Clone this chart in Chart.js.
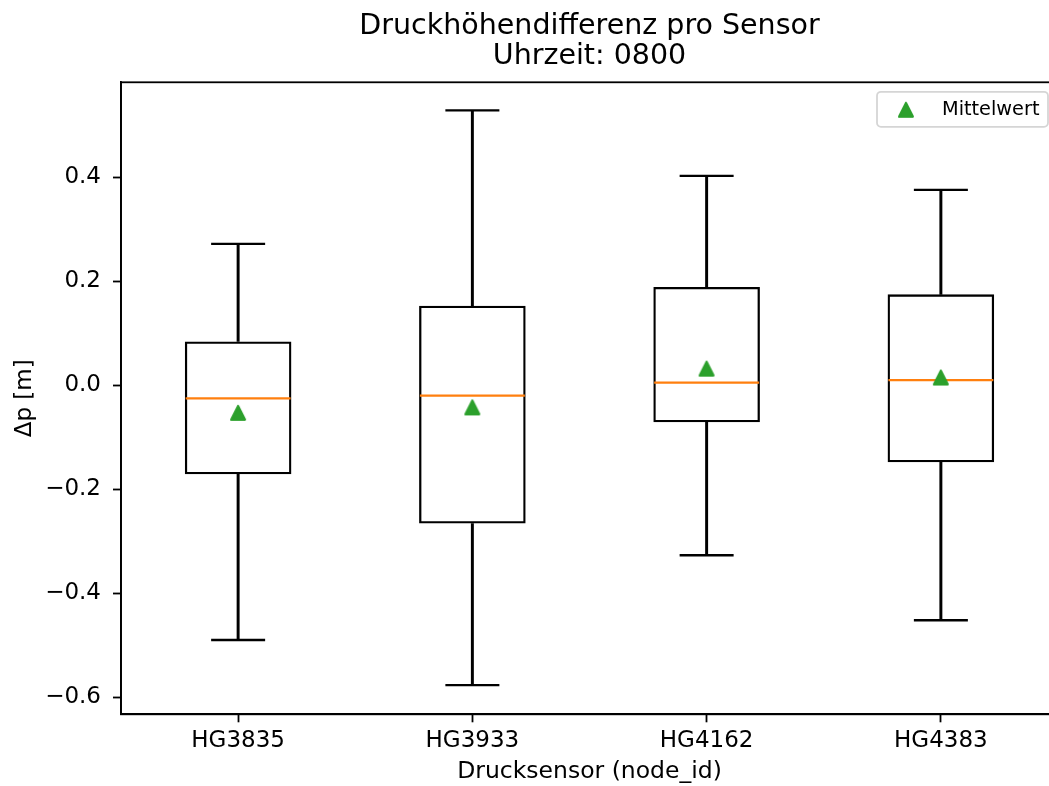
<!DOCTYPE html>
<html>
<head>
<meta charset="utf-8">
<script src="https://cdn.jsdelivr.net/npm/chart.js@4/dist/chart.umd.min.js"></script>
<style>
    html, body { margin: 0; padding: 0; background: #fff; }
    .wrap { width: 1049px; height: 786px; overflow: hidden; position: relative; }
    canvas { display: block; }
</style>
</head>
<body>
<div class="wrap"><canvas id="boxChart" width="1070" height="786" style="width:1070px;height:786px"></canvas></div>
<script>
// Werte
const sensors = ['HG3835', 'HG3933', 'HG4162', 'HG4383'];
const whiskerLow = [-0.490, -0.577, -0.327, -0.452];
const q1 = [-0.171, -0.266, -0.071, -0.148];
const medians = [-0.025, -0.020, 0.005, 0.010];
const q3 = [0.0845, 0.153, 0.189, 0.175];
const whiskerHigh = [0.272, 0.529, 0.403, 0.376];
const means = [-0.053, -0.0425, 0.032, 0.015];
const yTicks = [-0.6, -0.4, -0.2, 0.0, 0.2, 0.4];

const fontFamily = '"DejaVu Sans", sans-serif';
const gruen = '#2ca02c';
const orange = '#ff7f0e';
const lw = 2.3;

// matplotlib-artiges Dreieck (bbox-zentriert)
function makeTriangle(color) {
    const c = document.createElement('canvas');
    c.width = 20; c.height = 20;
    const g = c.getContext('2d');
    const h = 6.85;
    g.beginPath();
    g.moveTo(10, 10 - h);
    g.lineTo(10 - h, 10 + h);
    g.lineTo(10 + h, 10 + h);
    g.closePath();
    g.fillStyle = color;
    g.fill();
    g.lineWidth = lw;
    g.lineJoin = 'round';
    g.strokeStyle = color;
    g.stroke();
    return c;
}
const triangle = makeTriangle(gruen);

// Rahmen um die Zeichenfläche (alle vier Spines)
const framePlugin = {
    id: 'frame',
    afterDatasetsDraw(chart) {
        const { ctx, chartArea: a } = chart;
        ctx.save();
        ctx.strokeStyle = '#000';
        ctx.lineWidth = 1.8;
        ctx.strokeRect(a.left, a.top, a.right - a.left, a.bottom - a.top);
        ctx.restore();
    }
};

// Legende oben rechts wie bei matplotlib
const legendPlugin = {
    id: 'mplLegend',
    afterDraw(chart) {
        const { ctx, chartArea: a } = chart;
        const w = 171, h = 35;
        const x = a.right - 10 - w, y = a.top + 9.5;
        ctx.save();
        ctx.beginPath();
        ctx.roundRect(x, y, w, h, 4);
        ctx.fillStyle = 'rgba(255,255,255,0.8)';
        ctx.fill();
        ctx.strokeStyle = '#d5d5d5';
        ctx.lineWidth = 1.8;
        ctx.stroke();
        ctx.drawImage(triangle, x + 29 - 10, y + 18 - 10);
        ctx.fillStyle = '#000';
        ctx.font = '19.3px ' + fontFamily;
        ctx.textAlign = 'left';
        ctx.textBaseline = 'middle';
        ctx.fillText(chart.data.datasets[0].label, x + 65, y + 18);
        ctx.restore();
    }
};

const fmt = v => v.toFixed(1).replace('-', '\u2212');

new Chart(document.getElementById('boxChart'), {
    type: 'bar',
    data: {
        labels: sensors,
        datasets: [
            {
                type: 'line',
                label: 'Mittelwert',
                data: means,
                showLine: false,
                pointStyle: triangle,
                pointRadius: 8,
                order: 0
            },
            {
                type: 'line',
                label: 'Median',
                data: medians,
                showLine: false,
                pointStyle: 'line',
                pointRadius: 52.5,
                pointBorderColor: orange,
                pointBorderWidth: lw,
                order: 1
            },
            {
                type: 'line',
                label: 'Kappe oben',
                data: whiskerHigh,
                showLine: false,
                pointStyle: 'line',
                pointRadius: 27,
                pointBorderColor: '#000',
                pointBorderWidth: lw,
                order: 2
            },
            {
                type: 'line',
                label: 'Kappe unten',
                data: whiskerLow,
                showLine: false,
                pointStyle: 'line',
                pointRadius: 27,
                pointBorderColor: '#000',
                pointBorderWidth: lw,
                order: 2
            },
            {
                label: 'Box',
                data: sensors.map((s, i) => [q1[i], q3[i]]),
                backgroundColor: 'rgba(255,255,255,0)',
                borderColor: '#000',
                borderWidth: lw,
                borderSkipped: false,
                grouped: false,
                categoryPercentage: 1,
                barPercentage: 0.455,
                order: 3
            },
            {
                label: 'Whisker oben',
                data: sensors.map((s, i) => [q3[i], whiskerHigh[i]]),
                backgroundColor: '#000',
                borderWidth: 0,
                grouped: false,
                barThickness: lw,
                order: 4
            },
            {
                label: 'Whisker unten',
                data: sensors.map((s, i) => [whiskerLow[i], q1[i]]),
                backgroundColor: '#000',
                borderWidth: 0,
                grouped: false,
                barThickness: lw,
                order: 4
            }
        ]
    },
    options: {
        responsive: false,
        devicePixelRatio: 1,
        animation: false,
        layout: { autoPadding: false, padding: { left: 0, right: 12, top: 0, bottom: 0 } },
        plugins: {
            legend: { display: false },
            tooltip: { enabled: false },
            title: {
                display: true,
                fullSize: false,
                text: ['Druckhöhendifferenz pro Sensor', 'Uhrzeit: 0800'],
                color: '#000',
                font: { family: fontFamily, size: 28.5, weight: 'normal', lineHeight: 1.077 },
                padding: { top: 10.75, bottom: 10.15 }
            }
        },
        scales: {
            x: {
                offset: true,
                afterFit: (scale) => {
                    scale.height = 71.7;
                    scale.paddingLeft = 0;
                    scale.paddingRight = 0;
                },
                grid: {
                    offset: false,
                    drawOnChartArea: false,
                    drawTicks: true,
                    tickLength: 8,
                    tickColor: '#000',
                    tickWidth: 1.8
                },
                border: { display: true, color: '#000', width: 1.8 },
                ticks: {
                    color: '#000',
                    padding: 5,
                    font: { family: fontFamily, size: 23 }
                },
                title: {
                    display: true,
                    text: 'Drucksensor (node_id)',
                    color: '#000',
                    font: { family: fontFamily, size: 23.5, lineHeight: 1.2 },
                    padding: { top: 0, bottom: 0 }
                }
            },
            y: {
                min: -0.633,
                max: 0.583,
                afterFit: (scale) => {
                    scale.width = 121;
                    scale.paddingTop = 0;
                    scale.paddingBottom = 0;
                },
                afterBuildTicks: (scale) => { scale.ticks = yTicks.map(v => ({ value: v })); },
                grid: {
                    drawOnChartArea: false,
                    drawTicks: true,
                    tickLength: 8,
                    tickColor: '#000',
                    tickWidth: 1.8
                },
                border: { display: true, color: '#000', width: 1.8 },
                ticks: {
                    color: '#000',
                    padding: 12,
                    font: { family: fontFamily, size: 23 },
                    callback: (v) => fmt(v)
                },
                title: {
                    display: true,
                    text: 'Δp [m]',
                    color: '#000',
                    font: { family: fontFamily, size: 23, lineHeight: 1.2 },
                    padding: { top: 11.2, bottom: 0 }
                }
            }
        }
    },
    plugins: [framePlugin, legendPlugin]
});
</script>
</body>
</html>
